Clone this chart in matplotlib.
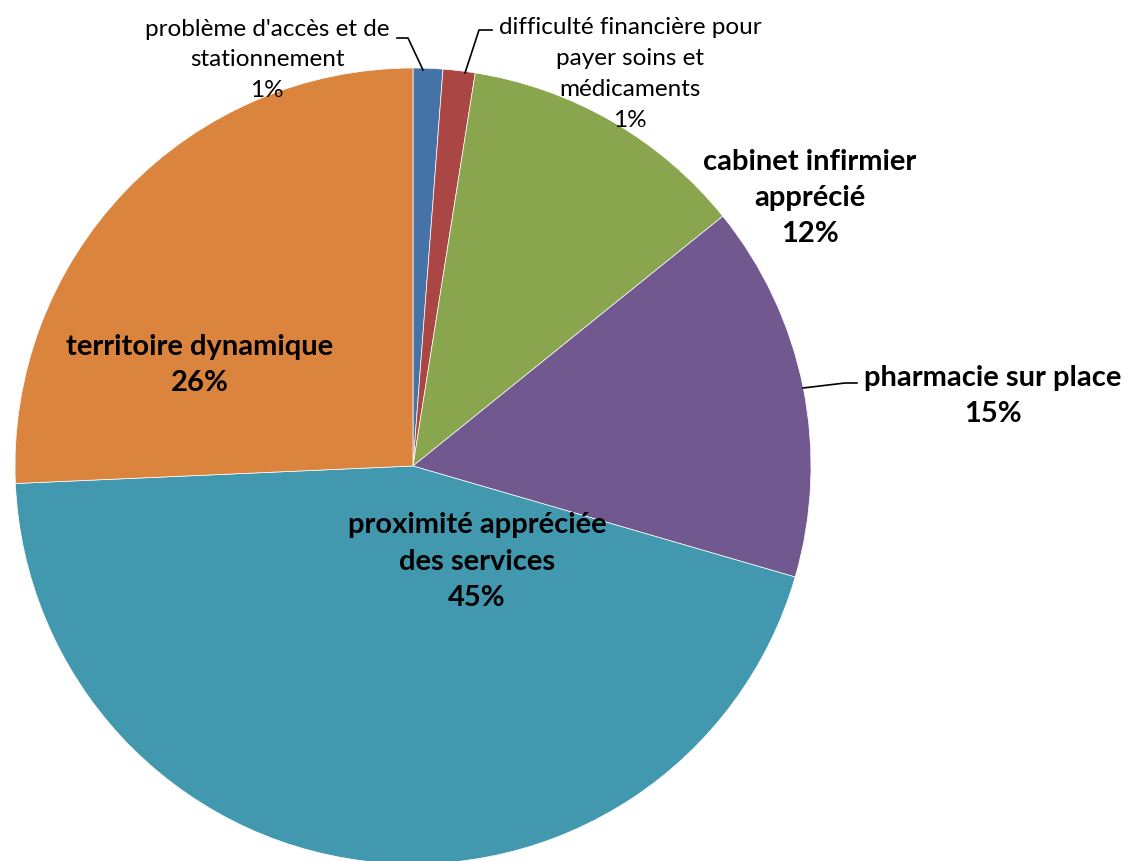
import matplotlib
matplotlib.use("Agg")
import matplotlib.pyplot as plt

# slices, clockwise from 12 o'clock
labels = ["problème d'accès et de\nstationnement",
          "difficulté financière pour\npayer soins et\nmédicaments",
          "cabinet infirmier\napprécié",
          "pharmacie sur place",
          "proximité appréciée\ndes services",
          "territoire dynamique"]
values = [1.2, 1.3, 11.7, 15.3, 44.8, 25.7]
colors = ["#4572A7", "#AA4643", "#89A54E", "#71588F", "#4198AF", "#DB843D"]

plt.rcParams['font.family'] = ['Lato', 'DejaVu Sans']

W, H = 1133, 861
fig = plt.figure(figsize=(W / 100, H / 100), dpi=100)
ax = fig.add_axes([0, 0, 1, 1])

def py(y):
    # image y (top down) -> axes y
    return H - y

ax.pie(values, colors=colors, startangle=90, counterclock=False,
       center=(413, py(466)), radius=398,
       wedgeprops=dict(linewidth=0.5, edgecolor='white'))
ax.set_xlim(0, W)
ax.set_ylim(0, H)
ax.set_aspect('equal')
ax.axis('off')

total = sum(values)
pct = [f"{round(v / total * 100):d}%" for v in values]

# small labels with leader lines
small = dict(ha='center', va='center', fontsize=17.5, linespacing=1.57)
ax.text(267, py(60), labels[0] + "\n" + pct[0], **small)
ax.plot([423, 408, 397], [py(70), py(38), py(38)], color='black', lw=1.2)

ax.text(630, py(74), labels[1] + "\n" + pct[1], **small)
ax.plot([465, 479, 492], [py(73), py(30), py(30)], color='black', lw=1.2)

# bold labels
bold = dict(ha='center', va='center', fontsize=21, fontweight='bold',
            linespacing=1.5)
ax.text(810, py(198), labels[2] + "\n" + pct[2], **bold)
ax.text(993, py(396), labels[3] + "\n" + pct[3], **bold)
ax.plot([803, 845, 857], [py(388), py(383), py(383)], color='black', lw=1.2)
ax.text(477, py(562), labels[4] + "\n" + pct[4], **bold)
ax.text(200, py(365), labels[5] + "\n" + pct[5], **bold)

fig.savefig("out.png", dpi=100)
